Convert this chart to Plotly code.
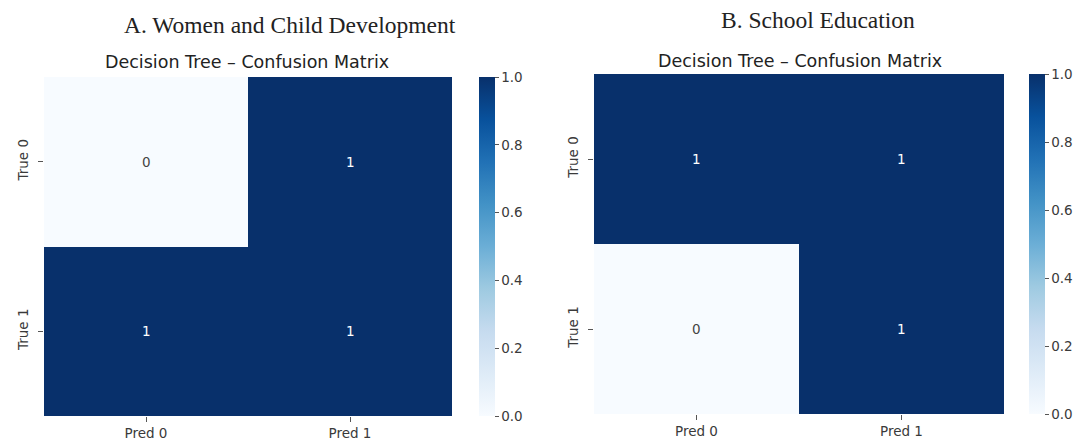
import plotly.graph_objects as go
import plotly.express as px

pred_labels = ["Pred 0", "Pred 1"]
true_labels = ["True 0", "True 1"]
z_women = [[0, 1], [1, 1]]
z_school = [[1, 1], [0, 1]]
panel_titles = ["A. Women and Child Development", "B. School Education"]
sub_title = "Decision Tree – Confusion Matrix"
cbar_ticks = [0.0, 0.2, 0.4, 0.6, 0.8, 1.0]

W, H = 1084, 443
blues = px.colors.sequential.Blues

fig = go.Figure()

panels = [
    dict(z=z_women, x0=44, x1=452, y0=77, y1=416, cb=479, xa="x", ya="y",
         t=panel_titles[0], tx=290, ty=25, sx=247, sy=62),
    dict(z=z_school, x0=594, x1=1004, y0=74, y1=414, cb=1029, xa="x2", ya="y2",
         t=panel_titles[1], tx=818, ty=20, sx=800, sy=61),
]

font_tick = dict(family="DejaVu Sans", size=13.5, color="#3a3a3a")

for i, p in enumerate(panels):
    fig.add_trace(go.Heatmap(
        z=p["z"], x=pred_labels, y=true_labels, xaxis=p["xa"], yaxis=p["ya"],
        colorscale=blues, zmin=0, zmax=1, showscale=True,
        colorbar=dict(
            x=p["cb"] / W, xanchor="left", xref="paper",
            y=1 - (p["y0"] + p["y1"]) / 2 / H, yanchor="middle",
            len=p["y1"] - p["y0"], lenmode="pixels",
            thickness=16, thicknessmode="pixels",
            outlinewidth=0, ticks="outside", ticklen=4, tickcolor="#555",
            tickvals=cbar_ticks, ticktext=[f"{v:.1f}" for v in cbar_ticks],
            tickfont=font_tick, xpad=0, ypad=0,
        ),
        hoverinfo="skip",
    ))
    dom_x = [p["x0"] / W, p["x1"] / W]
    dom_y = [1 - p["y1"] / H, 1 - p["y0"] / H]
    suffix = "" if i == 0 else "2"
    fig.layout["xaxis" + suffix] = dict(
        domain=dom_x, anchor=p["ya"], showgrid=False, zeroline=False,
        ticks="outside", ticklen=5, tickcolor="#555", tickfont=font_tick, showline=False,
    )
    fig.layout["yaxis" + suffix] = dict(
        domain=dom_y, anchor=p["xa"], autorange="reversed", showgrid=False, zeroline=False,
        ticks="outside", ticklen=5, tickcolor="#555", tickfont=font_tick, tickangle=-90,
        showline=False, ticklabelstandoff=5,
    )
    for r, row in enumerate(p["z"]):
        for c, v in enumerate(row):
            fig.add_annotation(
                x=pred_labels[c], y=true_labels[r], xref=p["xa"], yref=p["ya"],
                text=str(v), showarrow=False,
                font=dict(family="DejaVu Sans", size=13.5,
                          color="white" if v > 0.5 else "#444444"),
            )
    fig.add_annotation(
        x=p["tx"] / W, y=1 - p["ty"] / H, xref="paper", yref="paper",
        text=p["t"], showarrow=False, xanchor="center", yanchor="middle",
        font=dict(family="Liberation Serif", size=23.5, color="#222222"),
    )
    fig.add_annotation(
        x=p["sx"] / W, y=1 - p["sy"] / H, xref="paper", yref="paper",
        text=sub_title, showarrow=False, xanchor="center", yanchor="middle",
        font=dict(family="DejaVu Sans", size=17.5, color="#222222"),
    )

fig.update_layout(
    width=W, height=H, margin=dict(l=0, r=0, t=0, b=0),
    paper_bgcolor="white", plot_bgcolor="white", showlegend=False,
)

fig.write_html("out.html", config={"displayModeBar": False},
               post_script="document.body.style.margin='0';")
